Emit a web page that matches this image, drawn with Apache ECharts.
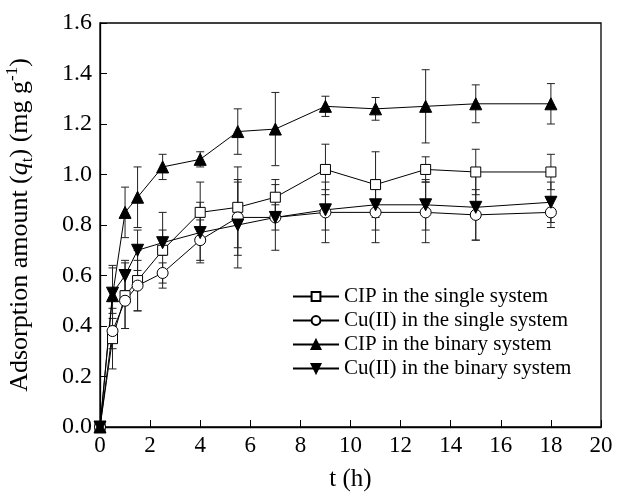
<!DOCTYPE html>
<html>
<head>
    <meta charset="utf-8">
    <title>Adsorption kinetics</title>
    <script src="https://cdn.jsdelivr.net/npm/echarts@6/dist/echarts.min.js"></script>
    <style>
        html, body { margin: 0; padding: 0; background: #fff; }
        #main { width: 619px; height: 496px; }
    </style>
</head>
<body>
<div id="main"></div>
<script type="text/javascript">
    // sampling times (h)
    var time = [0, 0.5, 1, 1.5, 2.5, 4, 5.5, 7, 9, 11, 13, 15, 18];

    // adsorption amount qt (mg/g) and error (+/-)
    var cipSingle    = [0, 0.35, 0.52, 0.58, 0.70, 0.85, 0.87, 0.91, 1.02, 0.96, 1.02, 1.01, 1.01];
    var cipSingleErr = [0, 0.12, 0.13, 0.12, 0.15, 0.12, 0.16, 0.07, 0.10, 0.13, 0.05, 0.09, 0.07];
    var cuSingle     = [0, 0.38, 0.50, 0.56, 0.61, 0.74, 0.83, 0.83, 0.85, 0.85, 0.85, 0.84, 0.85];
    var cuSingleErr  = [0, 0.07, 0.11, 0.10, 0.04, 0.08, 0.15, 0.05, 0.12, 0.12, 0.12, 0.10, 0.06];
    var cipBinary    = [0, 0.52, 0.85, 0.91, 1.03, 1.06, 1.17, 1.18, 1.27, 1.26, 1.27, 1.28, 1.28];
    var cipBinaryErr = [0, 0.12, 0.10, 0.12, 0.05, 0.03, 0.09, 0.145, 0.04, 0.045, 0.145, 0.075, 0.08];
    var cuBinary     = [0, 0.53, 0.60, 0.70, 0.73, 0.77, 0.80, 0.83, 0.86, 0.88, 0.88, 0.87, 0.89];
    var cuBinaryErr  = [0, 0.10, 0.06, 0.08, 0.05, 0.12, 0.17, 0.13, 0.08, 0.10, 0.10, 0.13, 0.08];

    var names = ['CIP in the single system', 'Cu(II) in the single system',
                 'CIP in the binary system', 'Cu(II) in the binary system'];

    var font = 'Liberation Serif';
    var myChart = echarts.init(document.getElementById('main'));

    function pairs(vals) {
        var out = [];
        for (var i = 0; i < time.length; i++) out.push([time[i], vals[i]]);
        return out;
    }
    function bars(vals, errs) {
        var out = [];
        for (var i = 0; i < time.length; i++) {
            if (errs[i] > 0) out.push([time[i], vals[i] - errs[i], vals[i] + errs[i]]);
        }
        return out;
    }

    // vertical error bar with caps
    function renderErr(params, api) {
        var x = api.value(0);
        var top = api.coord([x, api.value(2)]);
        var bot = api.coord([x, api.value(1)]);
        var w = 4;
        var st = { stroke: '#222', lineWidth: 1 };
        return {
            type: 'group',
            children: [
                { type: 'line', shape: { x1: top[0], y1: top[1], x2: bot[0], y2: bot[1] }, style: st },
                { type: 'line', shape: { x1: top[0] - w, y1: top[1], x2: top[0] + w, y2: top[1] }, style: st },
                { type: 'line', shape: { x1: bot[0] - w, y1: bot[1], x2: bot[0] + w, y2: bot[1] }, style: st }
            ]
        };
    }

    function errSeries(vals, errs) {
        return {
            type: 'custom',
            renderItem: renderErr,
            encode: { x: 0, y: [1, 2] },
            data: bars(vals, errs),
            silent: true,
            z: 1
        };
    }

    function lineSeries(name, vals, symbol, filled, rotate, size) {
        return {
            name: name,
            type: 'line',
            data: pairs(vals),
            symbol: symbol,
            symbolSize: size,
            symbolRotate: rotate,
            showAllSymbol: true,
            lineStyle: { color: '#000', width: 1 },
            itemStyle: { color: filled ? '#000' : '#fff', borderColor: '#000', borderWidth: 1 },
            z: 3
        };
    }

    var option = {
        animation: false,
        backgroundColor: '#fff',
        grid: {
            left: 100, right: 18, top: 23, bottom: 69,
            containLabel: false,
            outerBoundsMode: 'none',
            show: true, borderColor: '#000', borderWidth: 1.3
        },
        legend: {
            orient: 'vertical',
            left: 287,
            top: 281,
            itemWidth: 46,
            itemHeight: 11,
            itemGap: 3,
            data: names,
            textStyle: { fontFamily: font, fontSize: 21, color: '#000' }
        },
        xAxis: {
            type: 'value',
            min: 0, max: 20, interval: 2,
            name: 't (h)',
            nameLocation: 'middle',
            nameGap: 40,
            nameTextStyle: { fontFamily: font, fontSize: 25, color: '#000' },
            splitLine: { show: false },
            axisLine: { onZero: false, lineStyle: { color: '#000', width: 1.3 } },
            axisTick: { inside: true, length: 7, lineStyle: { color: '#000' } },
            axisLabel: { fontFamily: font, fontSize: 23, color: '#000', margin: 7 }
        },
        yAxis: {
            type: 'value',
            min: 0, max: 1.6, interval: 0.2,
            name: 'Adsorption amount ({i|q}{sub|t}) (mg g{sup|-1})',
            nameLocation: 'middle',
            nameRotate: 90,
            nameGap: 64,
            nameTextStyle: {
                fontFamily: font, fontSize: 26, color: '#000', lineHeight: 32,
                rich: {
                    i: { fontFamily: font, fontSize: 26, fontStyle: 'italic', color: '#000', lineHeight: 32 },
                    sub: { fontFamily: font, fontSize: 17, color: '#000', verticalAlign: 'bottom', lineHeight: 20 },
                    sup: { fontFamily: font, fontSize: 17, color: '#000', verticalAlign: 'top', lineHeight: 20 }
                }
            },
            splitLine: { show: false },
            axisLine: { onZero: false, lineStyle: { color: '#000', width: 1.3 } },
            axisTick: { inside: true, length: 7, lineStyle: { color: '#000' } },
            axisLabel: {
                fontFamily: font, fontSize: 24, color: '#000', margin: 8,
                formatter: function (v) { return v.toFixed(1); }
            }
        },
        series: [
            errSeries(cipSingle, cipSingleErr),
            errSeries(cuSingle, cuSingleErr),
            errSeries(cipBinary, cipBinaryErr),
            errSeries(cuBinary, cuBinaryErr),
            lineSeries(names[0], cipSingle, 'rect', false, 0, 10),
            lineSeries(names[1], cuSingle, 'circle', false, 0, 11),
            lineSeries(names[2], cipBinary, 'triangle', true, 0, 12),
            lineSeries(names[3], cuBinary, 'triangle', true, 180, 12)
        ]
    };

    myChart.setOption(option);
</script>
</body>
</html>
